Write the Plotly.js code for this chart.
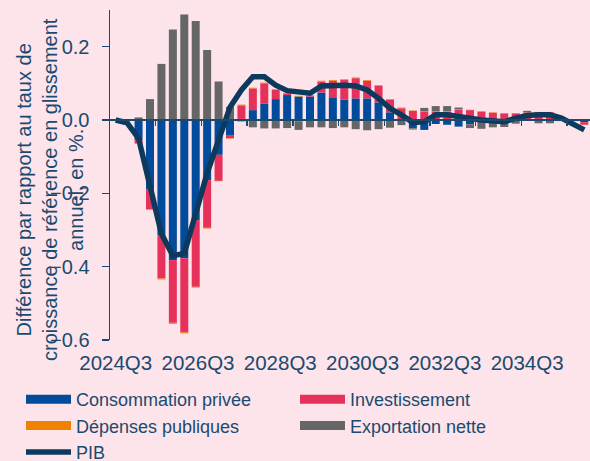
<!DOCTYPE html>
<html>
<head>
<meta charset="utf-8">
<script src="https://cdn.plot.ly/plotly-3.0.1.min.js"></script>
<style>
  html, body { margin: 0; padding: 0; background: #fce4ea; }
  #chart { width: 590px; height: 461px; }
</style>
</head>
<body>
<div id="chart"></div>
<script>
// quarters shown on the horizontal axis
const quarters = [
  "2024Q3", "2024Q4", "2025Q1", "2025Q2", "2025Q3", "2025Q4", "2026Q1", "2026Q2",
  "2026Q3", "2026Q4", "2027Q1", "2027Q2", "2027Q3", "2027Q4", "2028Q1", "2028Q2",
  "2028Q3", "2028Q4", "2029Q1", "2029Q2", "2029Q3", "2029Q4", "2030Q1", "2030Q2",
  "2030Q3", "2030Q4", "2031Q1", "2031Q2", "2031Q3", "2031Q4", "2032Q1", "2032Q2",
  "2032Q3", "2032Q4", "2033Q1", "2033Q2", "2033Q3", "2033Q4", "2034Q1", "2034Q2",
  "2034Q3", "2034Q4"
];
const tickLabels = ["2024Q3", "2026Q3", "2028Q3", "2030Q3", "2032Q3", "2034Q3"];

// contributions (pp)
const conso = [
  0, -0.003, -0.055, -0.19, -0.314, -0.382, -0.377, -0.273, -0.164, -0.095,
  -0.041, 0.003, 0.027, 0.045, 0.057, 0.068, 0.064, 0.064, 0.075, 0.062,
  0.056, 0.059, 0.059, 0.048, 0.021, 0, -0.023, -0.027, -0.011, -0.013,
  -0.018, -0.012, -0.004, -0.002, -0.003, -0.002, 0, 0, 0, 0,
  -0.003, -0.006
];
const invest = [
  0, 0, -0.009, -0.053, -0.118, -0.171, -0.202, -0.182, -0.13, -0.071,
  -0.009, 0.037, 0.059, 0.055, 0.025, 0.004, -0.005, 0.002, 0.03, 0.045,
  0.053, 0.055, 0.048, 0.045, 0.034, 0.032, 0.025, 0.023, 0.023, 0.023,
  0.029, 0.027, 0.023, 0.02, 0.018, 0.018, 0.02, 0.021, 0.021, 0.007,
  0.002, -0.007
];
const depenses = [
  0, 0, -0.001, -0.002, -0.003, -0.003, -0.003, -0.002, -0.002, -0.001,
  -0.001, 0.002, 0.002, 0.002, 0.002, 0.002, 0.002, 0.002, 0.002, 0.002,
  0.002, 0.002, 0.002, 0.002, 0.002, 0.002, 0.001, 0.001, 0.001, 0.001,
  0.001, 0.001, 0.001, 0.001, 0.001, 0.001, 0.001, 0.001, 0.001, 0,
  0, 0
];
const exportNette = [
  0, 0, 0.007, 0.057, 0.153, 0.247, 0.288, 0.27, 0.191, 0.105,
  0.036, -0.004, -0.02, -0.023, -0.023, -0.022, -0.022, -0.02, -0.02, -0.022,
  -0.02, -0.025, -0.028, -0.025, -0.021, -0.014, -0.003, 0.009, 0.014, 0.014,
  0.004, -0.01, -0.02, -0.018, -0.016, -0.008, 0.004, -0.009, -0.009, -0.003,
  0, 0
];
const pib = [
  0, -0.008, -0.05, -0.18, -0.31, -0.37, -0.364, -0.255, -0.145, -0.055,
  0.035, 0.082, 0.118, 0.118, 0.095, 0.08, 0.075, 0.073, 0.093, 0.095,
  0.095, 0.093, 0.082, 0.059, 0.032, 0.014, -0.007, -0.005, 0.014, 0.014,
  0.011, 0.005, 0, -0.003, -0.005, 0.005, 0.012, 0.014, 0.014, 0.005,
  -0.011, -0.027
];

var navy = "#1b4a70";
var fontFam = "Liberation Sans, Arial, sans-serif";
var series = [
  { name: "Consommation privée", y: conso, color: "#004b9b" },
  { name: "Investissement", y: invest, color: "#e6325b" },
  { name: "Dépenses publiques", y: depenses, color: "#f08200" },
  { name: "Exportation nette", y: exportNette, color: "#666666" },
];

var traces = [];
series.forEach(function (s) {
  traces.push({
    type: "bar",
    x: quarters,
    y: s.y,
    name: s.name,
    marker: { color: s.color },
    showlegend: false,
    hoverinfo: "x+y+name",
  });
});
// legend entries drawn as thick strokes
series.forEach(function (s) {
  traces.push({
    type: "scatter",
    mode: "lines",
    x: [null],
    y: [null],
    name: s.name,
    line: { color: s.color, width: 9 },
  });
});
traces.push({
  type: "scatter",
  mode: "lines",
  x: quarters,
  y: pib,
  xaxis: "x2",
  name: "PIB",
  line: { color: "#0d3a5c", width: 5.5 },
});

var yMin = -0.6, yMax = 0.3;
var nQ = quarters.length;
var labelPos = tickLabels.map(function (t, i) { return i * 7.2; });
var markPos = [];
for (var k = 3.5; k < nQ; k += 4) markPos.push(k);

var layout = {
  width: 590,
  height: 461,
  paper_bgcolor: "#fce4ea",
  plot_bgcolor: "#fce4ea",
  margin: { l: 110, r: 0, t: 10, b: 121, autoexpand: false },
  barmode: "relative",
  bargap: 0.3,
  font: { family: fontFam, color: navy, size: 20 },
  xaxis: {
    type: "category",
    range: [-0.5, nQ - 0.5],
    tickmode: "array",
    tickvals: labelPos,
    ticktext: tickLabels,
    ticks: "",
    ticklabelstandoff: 8,
    showline: false,
    showgrid: false,
    zeroline: false,
    automargin: false,
    tickfont: { size: 20.5, color: navy },
    fixedrange: true,
  },
  xaxis2: {
    type: "category",
    overlaying: "x",
    anchor: "free",
    position: (0 - yMin) / (yMax - yMin),
    range: [-0.5, nQ - 0.5],
    tickmode: "array",
    tickvals: markPos,
    showticklabels: false,
    ticks: "outside",
    ticklen: 5,
    tickwidth: 1.5,
    tickcolor: navy,
    showline: true,
    linecolor: navy,
    linewidth: 2,
    showgrid: false,
    zeroline: false,
    fixedrange: true,
  },
  yaxis: {
    range: [yMin, yMax],
    tickmode: "array",
    tickvals: [-0.6, -0.4, -0.2, 0, 0.2],
    tickformat: ".1f",
    ticks: "outside",
    ticklen: 7,
    tickwidth: 1.5,
    tickcolor: navy,
    ticklabelstandoff: 8,
    showline: true,
    linecolor: navy,
    linewidth: 1.5,
    showgrid: false,
    zeroline: false,
    automargin: false,
    tickfont: { size: 20, color: navy },
    fixedrange: true,
  },
  annotations: [
    {
      xref: "paper",
      yref: "paper",
      x: (50 - 110) / 480,
      y: (340 - 190) / 330,
      xanchor: "center",
      yanchor: "middle",
      textangle: -90,
      showarrow: false,
      align: "center",
      text: "Différence par rapport au taux de<br>croissance de référence en glissement<br>annuel, en %.",
      font: { size: 20, color: navy, family: fontFam },
    },
  ],
  legend: {
    orientation: "h",
    x: (21 - 110) / 480,
    xanchor: "left",
    y: (340 - 381) / 330,
    yanchor: "top",
    entrywidth: 214,
    itemwidth: 45,
    traceorder: "normal",
    bgcolor: "rgba(0,0,0,0)",
    font: { size: 18, color: navy, family: fontFam },
  },
  showlegend: true,
};

Plotly.newPlot("chart", traces, layout, { displayModeBar: false, staticPlot: true });
</script>
</body>
</html>
